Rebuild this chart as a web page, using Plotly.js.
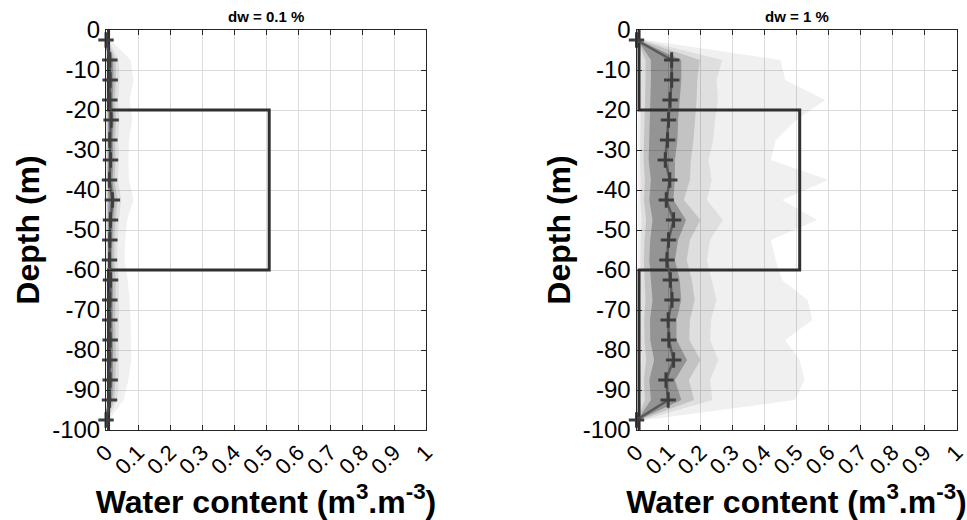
<!DOCTYPE html>
<html>
<head>
<meta charset="utf-8">
<script src="https://cdn.plot.ly/plotly-3.0.1.min.js"></script>
<style>html,body{margin:0;padding:0;background:#fff;}#chart{width:967px;height:520px;}</style>
</head>
<body>
<div id="chart"></div>
<script>
// ---- data ----
const depths = [-2.5,-7.5,-12.5,-17.5,-22.5,-27.5,-32.5,-37.5,-42.5,-47.5,-52.5,-57.5,-62.5,-67.5,-72.5,-77.5,-82.5,-87.5,-92.5,-97.5];

const modelDepth = [0,-20,-20,-60,-60,-100];
const modelWater = [0.008,0.008,0.51,0.51,0.008,0.008];

// dw = 0.1 %
const medianA = [0,0.012,0.013,0.012,0.016,0.012,0.014,0.011,0.020,0.014,0.012,0.011,0.014,0.012,0.012,0.013,0.012,0.013,0.011,0];
const lowA1 = [0,0.001,0.001,0.001,0.001,0.001,0.001,0.001,0.001,0.001,0.001,0.001,0.001,0.001,0.001,0.001,0.001,0.001,0.001,0];
const upA1  = [0.015,0.077,0.086,0.074,0.082,0.072,0.070,0.072,0.086,0.066,0.060,0.058,0.068,0.074,0.077,0.077,0.079,0.070,0.055,0.010];
const lowA2 = [0,0.002,0.002,0.002,0.002,0.002,0.002,0.002,0.002,0.002,0.002,0.002,0.002,0.002,0.002,0.002,0.002,0.002,0.002,0];
const upA2  = [0.008,0.040,0.042,0.038,0.042,0.038,0.040,0.037,0.048,0.040,0.036,0.035,0.040,0.040,0.040,0.041,0.042,0.040,0.035,0.006];
const lowA3 = [0,0.004,0.004,0.004,0.004,0.004,0.004,0.004,0.004,0.004,0.004,0.004,0.004,0.004,0.004,0.004,0.004,0.004,0.004,0];
const upA3  = [0.005,0.030,0.031,0.028,0.032,0.028,0.030,0.027,0.036,0.030,0.027,0.026,0.030,0.029,0.029,0.030,0.031,0.029,0.026,0.004];
const lowA4 = [0,0.006,0.006,0.006,0.007,0.006,0.006,0.005,0.008,0.006,0.006,0.005,0.006,0.006,0.006,0.006,0.006,0.006,0.005,0];
const upA4  = [0.003,0.022,0.023,0.021,0.025,0.021,0.023,0.020,0.028,0.022,0.020,0.019,0.022,0.021,0.021,0.022,0.022,0.022,0.019,0.002];

// dw = 1 %
const medianB = [0,0.110,0.110,0.105,0.100,0.097,0.090,0.104,0.093,0.116,0.100,0.095,0.106,0.111,0.099,0.101,0.116,0.092,0.099,0];
const lowB1 = [0,0.004,0.004,0.004,0.004,0.004,0.004,0.004,0.004,0.004,0.004,0.004,0.004,0.004,0.004,0.004,0.004,0.004,0.004,0];
const upB1  = [0.030,0.450,0.465,0.590,0.500,0.435,0.420,0.600,0.455,0.565,0.420,0.435,0.455,0.535,0.550,0.465,0.510,0.525,0.495,0.030];
const lowB2 = [0.001,0.015,0.015,0.014,0.013,0.012,0.011,0.013,0.012,0.016,0.013,0.012,0.013,0.015,0.012,0.013,0.016,0.012,0.013,0.001];
const upB2  = [0.020,0.268,0.250,0.255,0.245,0.240,0.225,0.235,0.220,0.270,0.230,0.220,0.235,0.250,0.233,0.230,0.256,0.230,0.237,0.020];
const lowB3 = [0.002,0.028,0.028,0.027,0.025,0.024,0.022,0.026,0.023,0.030,0.025,0.023,0.026,0.028,0.024,0.025,0.030,0.023,0.026,0.002];
const upB3  = [0.012,0.198,0.190,0.188,0.183,0.178,0.170,0.167,0.148,0.200,0.167,0.157,0.173,0.182,0.167,0.165,0.200,0.164,0.180,0.012];
const lowB4 = [0.003,0.045,0.045,0.043,0.042,0.040,0.038,0.045,0.040,0.050,0.043,0.040,0.045,0.050,0.042,0.043,0.055,0.040,0.045,0.003];
const upB4  = [0.006,0.140,0.140,0.135,0.130,0.128,0.120,0.120,0.115,0.155,0.130,0.120,0.135,0.140,0.125,0.125,0.158,0.120,0.140,0.006];

const panelTitles = ['dw = 0.1 %', 'dw = 1 %'];
const xTickVals = [0,0.1,0.2,0.3,0.4,0.5,0.6,0.7,0.8,0.9,1];
const xTickText = ['0','0.1','0.2','0.3','0.4','0.5','0.6','0.7','0.8','0.9','1'];
const yTickVals = [0,-10,-20,-30,-40,-50,-60,-70,-80,-90,-100];
const yTickText = ['0','-10','-20','-30','-40','-50','-60','-70','-80','-90','-100'];

// ---- traces ----
const bandAlpha = [0.06, 0.07, 0.12, 0.24];
function band(lower, upper, alpha, xa, ya) {
  return {
    x: upper.concat(lower.slice().reverse()),
    y: depths.concat(depths.slice().reverse()),
    xaxis: xa, yaxis: ya,
    type: 'scatter', mode: 'lines', fill: 'toself',
    fillcolor: 'rgba(0,0,0,' + alpha + ')',
    line: {width: 0}, hoverinfo: 'skip', showlegend: false
  };
}
function model(xa, ya) {
  return {x: modelWater, y: modelDepth, xaxis: xa, yaxis: ya, type: 'scatter', mode: 'lines',
    line: {color: '#303030', width: 3}, showlegend: false, cliponaxis: false};
}
function median(vals, xa, ya) {
  return {x: vals, y: depths, xaxis: xa, yaxis: ya, type: 'scatter', mode: 'lines+markers',
    line: {color: 'rgba(80,80,80,0.85)', width: 2.5},
    marker: {symbol: 'cross-thin', size: 11, line: {color: '#3e3e3e', width: 3}},
    showlegend: false, cliponaxis: false};
}

const traces = [
  band(lowA1, upA1, bandAlpha[0], 'x', 'y'),
  band(lowA2, upA2, bandAlpha[1], 'x', 'y'),
  band(lowA3, upA3, bandAlpha[2], 'x', 'y'),
  band(lowA4, upA4, bandAlpha[3], 'x', 'y'),
  model('x', 'y'),
  median(medianA, 'x', 'y'),
  band(lowB1, upB1, bandAlpha[0], 'x2', 'y2'),
  band(lowB2, upB2, bandAlpha[1], 'x2', 'y2'),
  band(lowB3, upB3, bandAlpha[2], 'x2', 'y2'),
  band(lowB4, upB4, bandAlpha[3], 'x2', 'y2'),
  model('x2', 'y2'),
  median(medianB, 'x2', 'y2')
];

const FONT = 'Liberation Sans, Arial, Helvetica, sans-serif';
const W = 967, H = 520;
const yDom = [(H - 430) / H, (H - 30) / H];

function xAxis(dom, anchor) {
  return {
    domain: dom, anchor: anchor, range: [0, 1], tickvals: xTickVals, ticktext: xTickText,
    tickangle: -45, tickfont: {family: FONT, size: 22, color: '#000'}, ticklabeloverflow: 'allow',
    ticks: 'inside', ticklen: 5, tickcolor: '#262626', showline: true, linecolor: '#262626', linewidth: 1,
    mirror: 'ticks', showgrid: true, gridcolor: '#dcdcdc', gridwidth: 1, zeroline: false, automargin: false,
    title: {text: '<b>Water content (m<sup>3</sup>.m<sup>-3</sup>)</b>', font: {family: FONT, size: 32, color: '#000'}, standoff: 2}
  };
}
function yAxis(anchor) {
  return {
    domain: yDom, anchor: anchor, range: [-100, 0], tickvals: yTickVals, ticktext: yTickText,
    tickfont: {family: FONT, size: 24, color: '#000'}, ticklabeloverflow: 'allow',
    ticks: 'inside', ticklen: 5, tickcolor: '#262626', showline: true, linecolor: '#262626', linewidth: 1,
    mirror: 'ticks', showgrid: true, gridcolor: '#dcdcdc', gridwidth: 1, zeroline: false, automargin: false,
    title: {text: '<b>Depth (m)</b>', font: {family: FONT, size: 32, color: '#000'}, standoff: 2}
  };
}

const layout = {
  width: W, height: H,
  margin: {l: 0, r: 0, t: 0, b: 0},
  paper_bgcolor: '#fff', plot_bgcolor: '#fff',
  showlegend: false,
  xaxis: xAxis([106 / W, 426 / W], 'y'),
  yaxis: yAxis('x'),
  xaxis2: xAxis([636.5 / W, 956.5 / W], 'y2'),
  yaxis2: yAxis('x2'),
  annotations: [
    {text: '<b>' + panelTitles[0] + '</b>', xref: 'x domain', yref: 'y domain', x: 0.5, y: 1, xanchor: 'center', yanchor: 'bottom', yshift: 3, showarrow: false, font: {family: FONT, size: 15, color: '#000'}},
    {text: '<b>' + panelTitles[1] + '</b>', xref: 'x2 domain', yref: 'y2 domain', x: 0.5, y: 1, xanchor: 'center', yanchor: 'bottom', yshift: 3, showarrow: false, font: {family: FONT, size: 15, color: '#000'}}
  ]
};

Plotly.newPlot('chart', traces, layout, {displayModeBar: false, staticPlot: true});
</script>
</body>
</html>
